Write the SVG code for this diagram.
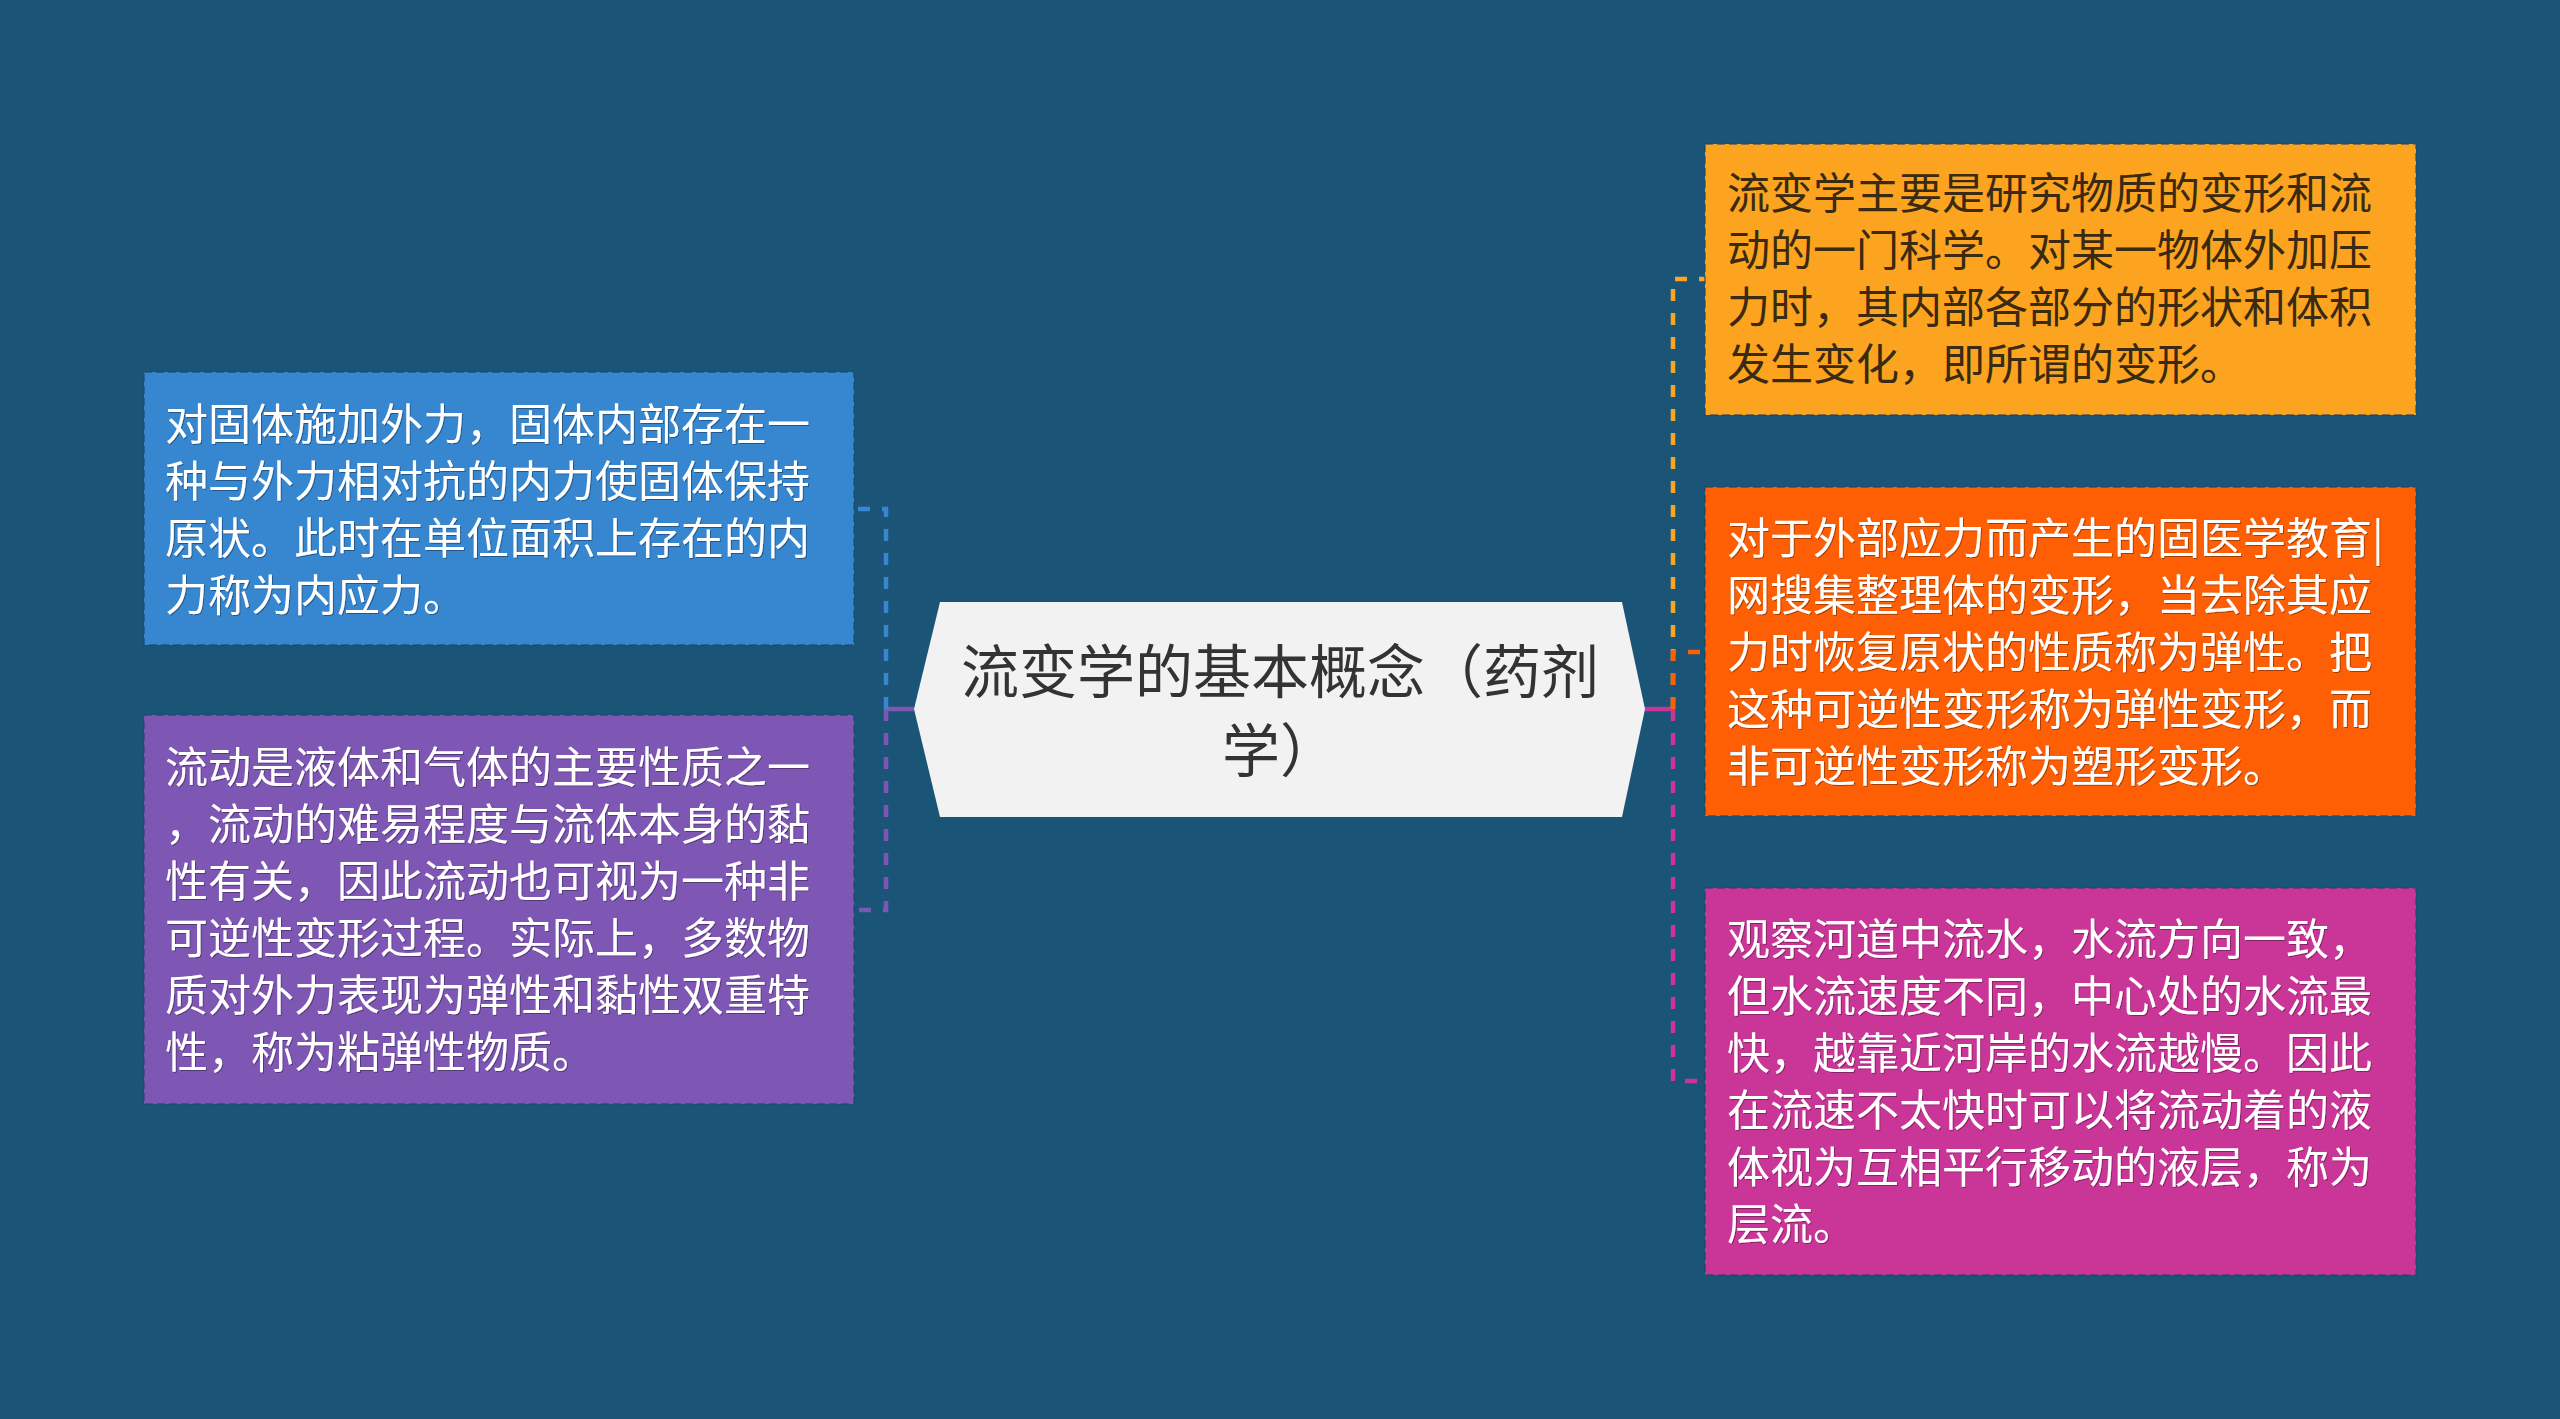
<svg xmlns="http://www.w3.org/2000/svg" width="2560" height="1419" viewBox="0 0 2560 1419">
<defs>
<style>
.t{font-family:"Noto Sans CJK SC","Noto Sans",sans-serif;font-size:43px;}
.w{fill:#ffffff;}
.d{fill:#3a2a12;}
.box{stroke:#1d4466;stroke-opacity:0.55;stroke-width:2;stroke-dasharray:8 4;}
.c{fill:none;stroke-width:4.5;stroke-dasharray:12 12;}
.s{fill:none;stroke-width:4.5;}
</style>
<filter id="sh" x="-5%" y="-5%" width="110%" height="110%">
<feDropShadow dx="1" dy="1" stdDeviation="0.6" flood-color="#000" flood-opacity="0.35"/>
</filter>
</defs>
<rect width="2560" height="1419" fill="#1a5477"/>
<g id="connectors">
<path class="s" stroke="#7e57b4" d="M914 709H886"/>
<path class="c" stroke="#3786d0" d="M886 709V509H855"/>
<path class="c" stroke="#7e57b4" d="M886 709V910H855"/>
<path class="s" stroke="#ca3598" d="M1645 709H1673"/>
<path class="c" stroke="#fca41f" d="M1673 709V279H1705"/>
<path class="c" stroke="#fe5f04" d="M1673 709V652H1705"/>
<path class="c" stroke="#ca3598" d="M1673 709V1081H1705"/>
</g>
<g id="center">
<polygon points="940,602 1622,602 1645,709 1622,817 940,817 914,709" fill="#f2f2f2"/>
<text x="1280" y="693" text-anchor="middle" style="font-family:'Noto Sans CJK SC','Noto Sans',sans-serif;font-size:58px;fill:#333333">流变学的基本概念（药剂</text>
<text x="1280" y="772" text-anchor="middle" style="font-family:'Noto Sans CJK SC','Noto Sans',sans-serif;font-size:58px;fill:#333333">学）</text>
</g>
<g id="node-blue">
<rect class="box" x="144" y="372" width="710" height="273" fill="#3786d0"/>
<g class="t w" filter="url(#sh)">
<text x="165" y="440">对固体施加外力，固体内部存在一</text>
<text x="165" y="497">种与外力相对抗的内力使固体保持</text>
<text x="165" y="554">原状。此时在单位面积上存在的内</text>
<text x="165" y="611">力称为内应力。</text>
</g>
</g>
<g id="node-purple">
<rect class="box" x="144" y="715" width="710" height="389" fill="#7e57b4"/>
<g class="t w" filter="url(#sh)">
<text x="165" y="783">流动是液体和气体的主要性质之一</text>
<text x="165" y="840">，流动的难易程度与流体本身的黏</text>
<text x="165" y="897">性有关，因此流动也可视为一种非</text>
<text x="165" y="954">可逆性变形过程。实际上，多数物</text>
<text x="165" y="1011">质对外力表现为弹性和黏性双重特</text>
<text x="165" y="1068">性，称为粘弹性物质。</text>
</g>
</g>
<g id="node-yellow">
<rect class="box" x="1705" y="144" width="711" height="271" fill="#fca41f"/>
<g class="t d">
<text x="1727" y="209">流变学主要是研究物质的变形和流</text>
<text x="1727" y="266">动的一门科学。对某一物体外加压</text>
<text x="1727" y="323">力时，其内部各部分的形状和体积</text>
<text x="1727" y="380">发生变化，即所谓的变形。</text>
</g>
</g>
<g id="node-orange">
<rect class="box" x="1705" y="487" width="711" height="329" fill="#fe5f04"/>
<g class="t w" filter="url(#sh)">
<text x="1727" y="554">对于外部应力而产生的固医学教育|</text>
<text x="1727" y="611">网搜集整理体的变形，当去除其应</text>
<text x="1727" y="668">力时恢复原状的性质称为弹性。把</text>
<text x="1727" y="725">这种可逆性变形称为弹性变形，而</text>
<text x="1727" y="782">非可逆性变形称为塑形变形。</text>
</g>
</g>
<g id="node-magenta">
<rect class="box" x="1705" y="888" width="711" height="387" fill="#ca3598"/>
<g class="t w" filter="url(#sh)">
<text x="1727" y="955">观察河道中流水，水流方向一致，</text>
<text x="1727" y="1012">但水流速度不同，中心处的水流最</text>
<text x="1727" y="1069">快，越靠近河岸的水流越慢。因此</text>
<text x="1727" y="1126">在流速不太快时可以将流动着的液</text>
<text x="1727" y="1183">体视为互相平行移动的液层，称为</text>
<text x="1727" y="1240">层流。</text>
</g>
</g>
</svg>
